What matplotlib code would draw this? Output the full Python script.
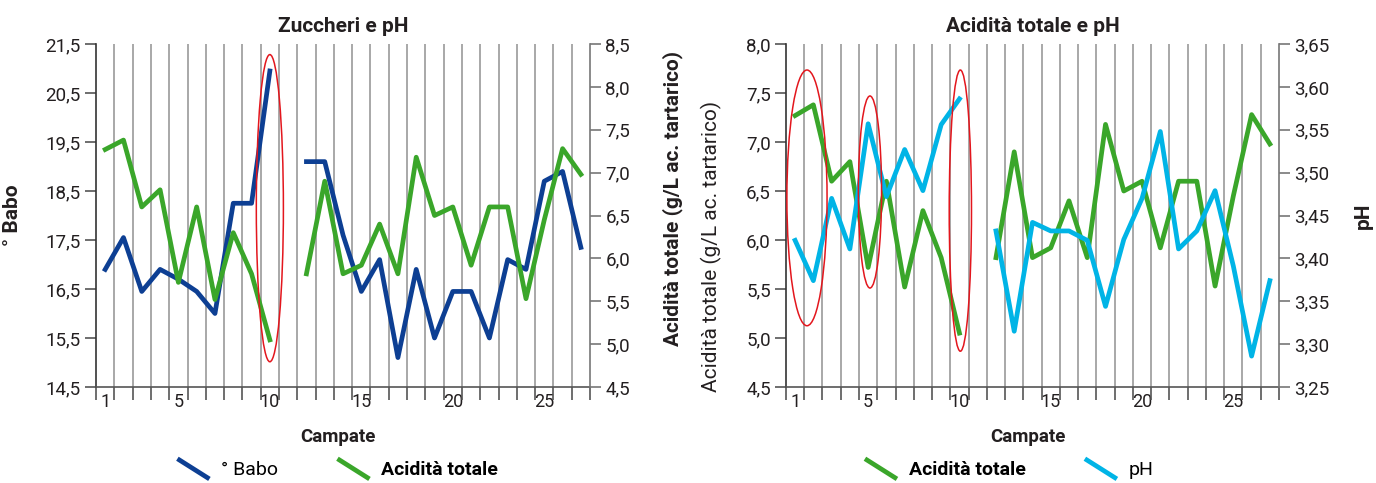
import numpy as np
import matplotlib
matplotlib.use("Agg")
import matplotlib.pyplot as plt
from matplotlib.patches import Ellipse
from matplotlib.lines import Line2D
from matplotlib.legend_handler import HandlerBase
from matplotlib.ticker import FuncFormatter, MultipleLocator, FixedLocator

plt.rcParams['font.family'] = ['Roboto', 'DejaVu Sans']

# dati
campate = np.arange(1, 28)
babo = [16.9, 17.55, 16.45, 16.9, 16.7, 16.45, 16.0, 18.25, 18.25, 20.95, np.nan,
        19.1, 19.1, 17.6, 16.45, 17.1, 15.1, 16.9, 15.5, 16.45, 16.45, 15.5, 17.1,
        16.9, 18.7, 18.9, 17.35]
acidita = [7.27, 7.38, 6.6, 6.8, 5.72, 6.6, 5.52, 6.3, 5.82, 5.05, np.nan,
           5.82, 6.9, 5.82, 5.92, 6.4, 5.82, 7.18, 6.5, 6.6, 5.92, 6.6, 6.6,
           5.53, 6.45, 7.28, 6.98]
ph = [3.421, 3.374, 3.470, 3.411, 3.557, 3.472, 3.527, 3.479, 3.556, 3.586, np.nan,
      3.432, 3.315, 3.442, 3.432, 3.432, 3.421, 3.344, 3.422, 3.470, 3.548, 3.411,
      3.432, 3.479, 3.391, 3.286, 3.374]
xlabels = [1, 5, 10, 15, 20, 25]
babo_ticks = [14.5, 15.5, 16.5, 17.5, 18.5, 19.5, 20.5, 21.5]

BLU = '#0d3f93'
VERDE = '#3aa62a'
CIANO = '#00b4e6'
GRIGIO = '#a8a8a8'
TESTO = '#231f20'
LW = 3.4
FS = 13
FL = 15   # etichette assi e titoli


def virgola(dec):
    return FuncFormatter(lambda v, p: f"{v:.{dec}f}".replace('.', ','))


class Diagonale(HandlerBase):
    def create_artists(self, legend, orig, xd, yd, width, height, fontsize, trans):
        l = Line2D([-xd + 0.1 * width, -xd + width], [-yd + height * 1.1, -yd - height * 0.2],
                   color=orig.get_color(), lw=orig.get_linewidth(), transform=trans)
        return [l]


def base(ax):
    ax.set_xlim(0.5, 27.5)
    ax.xaxis.set_major_locator(FixedLocator(xlabels))
    ax.xaxis.set_minor_locator(FixedLocator(np.arange(0.5, 28, 1)))
    ax.tick_params(axis='x', which='major', length=0, pad=4, labelsize=FS, colors=TESTO)
    ax.tick_params(axis='x', which='minor', length=9, width=1.2, color='#555555', direction='out')
    for b in np.arange(1.5, 27, 1):
        ax.axvline(b, color=GRIGIO, lw=1.4, zorder=0)
    ax.spines['top'].set_visible(False)
    ax.spines['right'].set_visible(False)
    ax.spines['left'].set_color('#333333')
    ax.spines['bottom'].set_color('#555555')
    ax.spines['left'].set_linewidth(1.2)
    ax.spines['bottom'].set_linewidth(1.2)
    ax.tick_params(axis='y', length=8, width=1.2, color='#555555', labelsize=FS + 0.5, labelcolor=TESTO, pad=3)
    ax.set_xlabel('Campate', fontsize=FS + 0.5, fontweight='bold', color=TESTO)
    ax.xaxis.set_label_coords(0.49, -0.12)


def destra(ax2):
    for s in ['top', 'left', 'bottom']:
        ax2.spines[s].set_visible(False)
    ax2.spines['right'].set_color('#777777')
    ax2.spines['right'].set_linewidth(1.2)
    ax2.tick_params(axis='y', length=8, width=1.2, color='#777777', labelsize=FS + 0.5, labelcolor=TESTO, pad=3)


fig = plt.figure(figsize=(13.76, 4.83), dpi=100)

# --- grafico sinistro: Zuccheri e pH
ax1 = fig.add_axes([0.0698, 0.1988, 0.359, 0.710])
base(ax1)
ax1.set_ylim(14.5, 21.5)
ax1.yaxis.set_major_locator(FixedLocator(babo_ticks))
ax1.yaxis.set_major_formatter(virgola(1))
l_babo, = ax1.plot(campate, babo, color=BLU, lw=LW, zorder=3)
ax1.set_ylabel('° Babo', fontsize=FL, fontweight='bold', color=TESTO)
ax1.yaxis.set_label_coords(-0.15, 0.5)
ax1.set_title('Zuccheri e pH', fontsize=FL, fontweight='bold', color=TESTO, pad=9)

ax1b = ax1.twinx()
ax1b.set_xlim(0.5, 27.5)
destra(ax1b)
ax1b.set_ylim(4.5, 8.5)
ax1b.yaxis.set_major_locator(MultipleLocator(0.5))
ax1b.yaxis.set_major_formatter(virgola(1))
l_acid1, = ax1b.plot(campate, acidita, color=VERDE, lw=LW, zorder=3)
ax1b.set_ylabel('Acidità totale (g/L ac. tartarico)', fontsize=FL, fontweight='bold', color=TESTO)
ax1b.yaxis.set_label_coords(1.146, 0.55)
ax1b.add_patch(Ellipse((10, 18.15), 1.48, 6.27, transform=ax1.transData,
                       fill=False, edgecolor='#e3161d', lw=1.1, zorder=5))

leg1 = fig.legend([l_babo, l_acid1], ['° Babo', 'Acidità totale'], loc='center',
                  bbox_to_anchor=(0.245, 0.027), ncol=2, frameon=False, fontsize=FS + 1,
                  handler_map={Line2D: Diagonale()}, handlelength=1.6, handletextpad=0.7,
                  columnspacing=3.0)
leg1.get_texts()[1].set_fontweight('bold')

# --- grafico destro: Acidità totale e pH
ax2 = fig.add_axes([0.5712, 0.1988, 0.3583, 0.710])
base(ax2)
ax2.set_ylim(4.5, 8.0)
ax2.yaxis.set_major_locator(MultipleLocator(0.5))
ax2.yaxis.set_major_formatter(virgola(1))
l_acid2, = ax2.plot(campate, acidita, color=VERDE, lw=LW, zorder=3)
ax2.set_ylabel('Acidità totale (g/L ac. tartarico)', fontsize=FL, color=TESTO)
ax2.yaxis.set_label_coords(-0.13, 0.41)
ax2.set_title('Acidità totale e pH', fontsize=FL, fontweight='bold', color=TESTO, pad=9)

ax2b = ax2.twinx()
ax2b.set_xlim(0.5, 27.5)
destra(ax2b)
ax2b.set_ylim(3.25, 3.65)
ax2b.yaxis.set_major_locator(MultipleLocator(0.05))
ax2b.yaxis.set_major_formatter(virgola(2))
l_ph, = ax2b.plot(campate, ph, color=CIANO, lw=LW, zorder=3)
ax2b.set_ylabel('pH', fontsize=FL, fontweight='bold', color=TESTO, rotation=90)
ax2b.yaxis.set_label_coords(1.152, 0.5)
for cx, cy, w, h in [(1.65, 6.43, 2.2, 2.61), (5.1, 6.49, 1.27, 1.96), (10.05, 6.3, 1.22, 2.87)]:
    ax2b.add_patch(Ellipse((cx, cy), w, h, transform=ax2.transData,
                           fill=False, edgecolor='#e3161d', lw=1.1, zorder=5))

leg2 = fig.legend([l_acid2, l_ph], ['Acidità totale', 'pH'], loc='center',
                  bbox_to_anchor=(0.733, 0.027), ncol=2, frameon=False, fontsize=FS + 1,
                  handler_map={Line2D: Diagonale()}, handlelength=1.6, handletextpad=0.7,
                  columnspacing=3.0)
leg2.get_texts()[0].set_fontweight('bold')

fig.savefig('out.png', dpi=100)
